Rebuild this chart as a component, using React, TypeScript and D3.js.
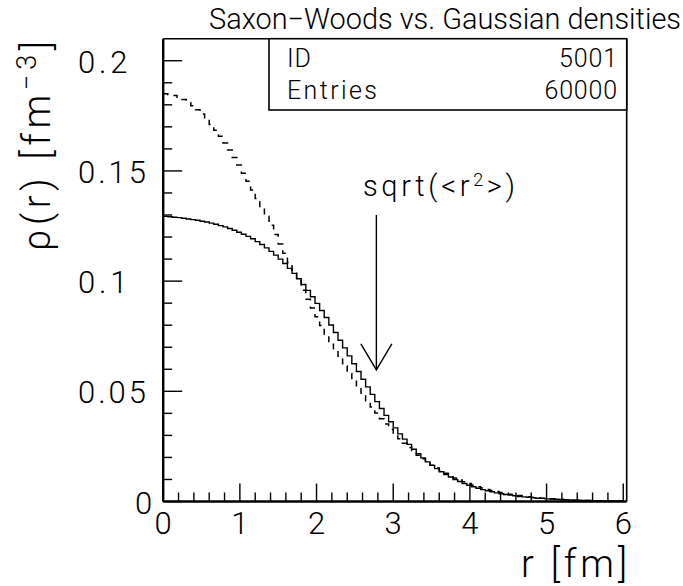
import React from "react";
import * as d3 from "d3";

// Histogram binning: 100 bins of 0.06 fm on [0, 6]
const binLow = 0;
const binWidth = 0.06;

// Saxon-Woods density, bin contents [fm^-3]
const saxonWoods = [
  0.1294, 0.1292, 0.129, 0.1288, 0.1285, 0.1282, 0.1279, 0.1276, 0.1272, 0.1268,
  0.1263, 0.1258, 0.1252, 0.1246, 0.1239, 0.1231, 0.1222, 0.1213, 0.1203, 0.1192,
  0.1179, 0.1166, 0.1151, 0.1135, 0.1118, 0.11, 0.108, 0.1058, 0.1035, 0.1011,
  0.0985, 0.0958, 0.0929, 0.0899, 0.0867, 0.0835, 0.0801, 0.0767, 0.0732, 0.0697,
  0.0661, 0.0625, 0.059, 0.0555, 0.052, 0.0486, 0.0453, 0.0422, 0.0391, 0.0362,
  0.0334, 0.0307, 0.0283, 0.0259, 0.0237, 0.0217, 0.0198, 0.018, 0.0164, 0.0149,
  0.0135, 0.0122, 0.0111, 0.01, 0.0091, 0.0082, 0.0074, 0.0067, 0.006, 0.0054,
  0.0049, 0.0044, 0.0039, 0.0035, 0.0032, 0.0029, 0.0026, 0.0023, 0.0021, 0.0019,
  0.0017, 0.0015, 0.0014, 0.0012, 0.0011, 0.001, 0.0009, 0.0008, 0.0007, 0.0006,
  0.0006, 0.0005, 0.0005, 0.0004, 0.0004, 0.0003, 0.0003, 0.0003, 0.0002, 0.0002,
];

// Gaussian density, bin contents [fm^-3]
const gaussian = [
  0.185, 0.1847, 0.1842, 0.1834, 0.1824, 0.1811, 0.1796, 0.1778, 0.1758, 0.1736,
  0.1711, 0.1685, 0.1657, 0.1627, 0.1595, 0.1561, 0.1527, 0.149, 0.1453, 0.1414,
  0.1375, 0.1335, 0.1294, 0.1253, 0.1211, 0.1169, 0.1127, 0.1085, 0.1043, 0.1001,
  0.0959, 0.0918, 0.0878, 0.0838, 0.0799, 0.076, 0.0722, 0.0686, 0.065, 0.0615,
  0.0581, 0.0549, 0.0517, 0.0487, 0.0457, 0.0429, 0.0402, 0.0376, 0.0352, 0.0328,
  0.0306, 0.0285, 0.0264, 0.0245, 0.0227, 0.021, 0.0194, 0.0179, 0.0165, 0.0152,
  0.014, 0.0128, 0.0117, 0.0107, 0.0098, 0.009, 0.0082, 0.0074, 0.0067, 0.0061,
  0.0055, 0.005, 0.0045, 0.0041, 0.0037, 0.0033, 0.003, 0.0027, 0.0024, 0.0021,
  0.0019, 0.0017, 0.0015, 0.0013, 0.0012, 0.0011, 0.0009, 0.0008, 0.0007, 0.0006,
  0.0006, 0.0005, 0.0004, 0.0004, 0.0003, 0.0003, 0.0003, 0.0002, 0.0002, 0.0002,
];

const xTickLabels = ["0", "1", "2", "3", "4", "5", "6"];
const yTickLabels = ["0", "0.05", "0.1", "0.15", "0.2"];

const statsLabels = ["ID", "Entries"];
const statsValues = ["5001", "60000"];

// sqrt(<r^2>) marker
const rmsRadius = 2.78;
const arrowFrom = 0.13;
const arrowTo = 0.0597;

const W = 683;
const H = 586;
const FONT = "Roboto, 'DejaVu Sans', sans-serif";

const x = d3.scaleLinear().domain([0, 6.045]).range([163.2, 626.7]);
const y = d3.scaleLinear().domain([0, 0.21]).range([501.5, 38.7]);

function histPath(values: number[]): string {
  const pts: [number, number][] = values.map((v, i) => [binLow + i * binWidth, v]);
  pts.push([binLow + values.length * binWidth, values[values.length - 1]]);
  const line = d3
    .line<[number, number]>()
    .x((d) => x(d[0]))
    .y((d) => y(d[1]))
    .curve(d3.curveStepAfter);
  return line(pts) || "";
}

// Tick label width: narrow glyphs on a wide fixed pitch
const labelWidth = (s: string) => s.length * 18.5 - 6;

export default function App() {
  const xMajor = d3.range(0, 7, 1);
  const xMinor = d3.range(0, 30).map((i) => i * 0.2).filter((v) => Math.abs(v - Math.round(v)) > 1e-6);
  const yMajor = d3.range(0, 5).map((i) => i * 0.05);
  const yMinor = d3.range(0, 21).map((i) => i * 0.01).filter((_, i) => i % 5 !== 0);

  const x0 = x.range()[0];
  const x1 = x.range()[1];
  const y0 = y.range()[0];
  const y1 = y.range()[1];
  const ax = x(rmsRadius);

  return (
    <svg
      width={W}
      height={H}
      style={{ position: "absolute", left: 0, top: 0, background: "#fff" }}
      fontFamily={FONT}
      fontWeight={300}
    >
      <rect x={0} y={0} width={W} height={H} fill="#fff" />

      {/* Title */}
      <text x={681} y={29} fontSize={29} textAnchor="end" textLength={472} lengthAdjust="spacingAndGlyphs">
        Saxon−Woods vs. Gaussian densities
      </text>

      {/* Histograms */}
      <path d={histPath(gaussian)} fill="none" stroke="#000" strokeWidth={1.5} strokeDasharray="6 6" />
      <path d={histPath(saxonWoods)} fill="none" stroke="#000" strokeWidth={1.4} />

      {/* Frame */}
      <line x1={x0} x2={x1} y1={y1} y2={y1} stroke="#000" strokeWidth={1.6} />
      <line x1={x1} x2={x1} y1={y1} y2={y0} stroke="#000" strokeWidth={1.6} />
      <line x1={x0} x2={x0} y1={y1} y2={y0} stroke="#000" strokeWidth={2.4} />
      <line x1={x0} x2={x1} y1={y0} y2={y0} stroke="#000" strokeWidth={2.4} />

      {/* X ticks */}
      {xMajor.map((t) => (
        <line key={"xM" + t} x1={x(t)} x2={x(t)} y1={y0} y2={y0 - 18} stroke="#000" strokeWidth={1.4} />
      ))}
      {xMinor.map((t) => (
        <line key={"xm" + t} x1={x(t)} x2={x(t)} y1={y0} y2={y0 - 9} stroke="#000" strokeWidth={1.4} />
      ))}
      {xTickLabels.map((s, i) => (
        <text key={"xl" + s} x={x(xMajor[i])} y={534} fontSize={31} textAnchor="middle">
          {s}
        </text>
      ))}

      {/* Y ticks */}
      {yMajor.map((t) => (
        <line key={"yM" + t} x1={x0} x2={x0 + 19} y1={y(t)} y2={y(t)} stroke="#000" strokeWidth={1.4} />
      ))}
      {yMinor.map((t) => (
        <line key={"ym" + t} x1={x0} x2={x0 + 9} y1={y(t)} y2={y(t)} stroke="#000" strokeWidth={1.4} />
      ))}
      {yTickLabels.map((s, i) => (
        <text
          key={"yl" + s}
          x={s === "0" ? 135 : 78}
          y={y(yMajor[i]) + 12}
          fontSize={31}
          textAnchor="start"
          textLength={s.length > 1 ? labelWidth(s) : undefined}
          lengthAdjust="spacing"
        >
          {s}
        </text>
      ))}

      {/* Axis titles */}
      <text x={627} y={577} fontSize={38} textAnchor="end" textLength={106} lengthAdjust="spacing">
        r [fm]
      </text>
      <text transform="translate(50,251) rotate(-90)" fontSize={38} textAnchor="start" textLength={210} lengthAdjust="spacing">
        ρ(r) [fm
        <tspan dy={-14} fontSize={27}>
          −3
        </tspan>
        <tspan dy={14}>]</tspan>
      </text>

      {/* Statistics box */}
      <rect x={269} y={y1} width={x1 - 269} height={110 - y1} fill="#fff" stroke="#000" strokeWidth={1.6} />
      {statsLabels.map((s, i) => (
        <text
          key={s}
          x={287}
          y={67 + i * 32}
          fontSize={25}
          textLength={s === "ID" ? 24 : 90}
          lengthAdjust="spacing"
        >
          {s}
        </text>
      ))}
      {statsValues.map((s, i) => (
        <text
          key={s}
          x={617}
          y={67 + i * 32}
          fontSize={25}
          textAnchor="end"
          textLength={s.length * 14.5}
          lengthAdjust="spacing"
        >
          {s}
        </text>
      ))}

      {/* sqrt(<r2>) arrow */}
      <text x={363} y={196} fontSize={29} textLength={152} lengthAdjust="spacing">
        sqrt(&lt;r<tspan dy={-10} fontSize={18}>2</tspan>
        <tspan dy={10}>&gt;)</tspan>
      </text>
      <line x1={ax} x2={ax} y1={y(arrowFrom)} y2={y(arrowTo)} stroke="#000" strokeWidth={1.4} />
      <polyline
        points={`${ax - 15.5},${y(arrowTo) - 26} ${ax},${y(arrowTo)} ${ax + 15.5},${y(arrowTo) - 26}`}
        fill="none"
        stroke="#000"
        strokeWidth={1.4}
      />
    </svg>
  );
}
